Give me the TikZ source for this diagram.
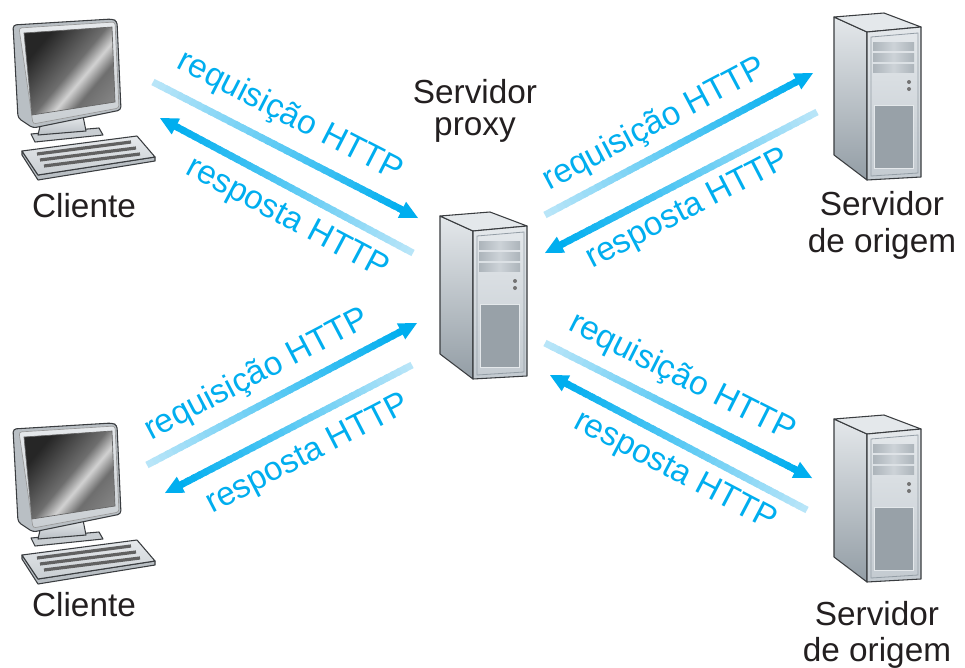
\documentclass[tikz,border=0pt]{standalone}
\usepackage{fontspec}
\setmainfont{Liberation Sans}
\usetikzlibrary{calc}
\definecolor{arrowblue}{HTML}{00AEEF}
\definecolor{arrowlight}{HTML}{B8E5F8}
\definecolor{labelblue}{HTML}{00AEEF}
\definecolor{textblack}{HTML}{231F20}
\definecolor{linegray}{HTML}{3A3D40}
\definecolor{scrA}{HTML}{262626}
\definecolor{scrB}{HTML}{6E6E6E}
\definecolor{scrC}{HTML}{D2D2D2}
\definecolor{scrD}{HTML}{A8A8A8}
\definecolor{frameside}{HTML}{B9BFC4}
\definecolor{frametop}{HTML}{E6E9EC}
\definecolor{framebot}{HTML}{C9CED2}
\definecolor{srvlight}{HTML}{E4E8EB}
\definecolor{srvmid}{HTML}{C3CAD0}
\definecolor{srvdark}{HTML}{939DA5}
\definecolor{srvpanel}{HTML}{98A1A8}
\definecolor{baydark}{HTML}{8C969D}
\definecolor{baylight}{HTML}{CDD3D8}
\pgfdeclarehorizontalshading{screenshade}{100bp}{color(0bp)=(scrA); color(28bp)=(scrA); color(50bp)=(scrB); color(58bp)=(scrC); color(66bp)=(scrB); color(100bp)=(scrD)}
\pgfdeclarehorizontalshading{bayshade}{100bp}{color(0bp)=(baydark); color(50bp)=(baylight); color(100bp)=(baydark)}
\newcommand\gradarrow[2]{%
  \coordinate (ga-e) at ($(#2)!11pt!(#1)$);
  \coordinate (ga-b) at ($(#2)!13.5pt!(#1)$);
  \foreach \i in {0,...,39}{%
    \pgfmathsetmacro\fa{\i/40}%
    \pgfmathsetmacro\fb{min(1,(\i+1.5)/40)}%
    \pgfmathtruncatemacro\pc{\i*100/39}%
    \draw[line width=5.2pt, arrowblue!\pc!arrowlight] ($(#1)!\fa!(ga-e)$) -- ($(#1)!\fb!(ga-e)$);
  }%
  \fill[arrowblue] (#2) -- ($(ga-b)!6.75pt!90:(#2)$) -- ($(ga-b)!6.75pt!-90:(#2)$) -- cycle;
}
\tikzset{
  outl/.style={draw=linegray, line width=0.8pt, line join=round},
  lbl/.style={text=labelblue, font=\fontsize{25pt}{27pt}\selectfont, inner sep=0pt},
  captxt/.style={text=textblack, font=\fontsize{25pt}{27pt}\selectfont, align=center, inner sep=0pt},
  computer/.pic={
    % stand
    \draw[outl, fill=framebot] (18,116) -- (86,110) -- (90,117) -- (22,124) -- cycle;
    \draw[outl, top color=frametop, bottom color=frameside] (28,104) -- (70,98) -- (73,113) -- (25,117) -- cycle;
    % monitor
    \draw[outl, rounded corners=2.5pt, fill=frameside] (0,7) -- (99,1) -- (104,3) -- (108,92) -- (20,110) -- (5,100) -- cycle;
    \draw[line width=0.5pt, draw=black!40, top color=frametop, bottom color=framebot, rounded corners=2pt] (6,10) -- (102,4) -- (106,90) -- (20,106) -- cycle;
    \shade[shading=screenshade, shading angle=-40, draw=black!60, line width=0.5pt] (11,15) -- (99,9) -- (102,84) -- (19,97) -- cycle;
    % keyboard
    \draw[outl, fill=frameside] (9,133) -- (25,157) -- (142,139) -- (142,143) -- (25,162) -- (9,137) -- cycle;
    \draw[outl, top color=frametop, bottom color=framebot] (9,133) -- (124,118) -- (142,139) -- (25,157) -- cycle;
    \draw[line width=2.4pt, draw=black!62] (24,136) -- (118,124);
    \draw[line width=2.4pt, draw=black!62] (27,142) -- (123,130);
    \draw[line width=2.4pt, draw=black!62] (31,148) -- (127,136);
  },
  server/.pic={
    % left face
    \draw[outl, top color=srvlight, bottom color=srvdark] (0,4) -- (33,19) -- (33,167) -- (0,142) -- cycle;
    % top face
    \draw[outl, fill=srvlight] (0,4) -- (50,0) -- (87,14) -- (33,19) -- cycle;
    % front face
    \draw[outl, top color=srvlight, bottom color=srvmid] (33,19) -- (87,14) -- (87,164) -- (33,167) -- cycle;
    \draw[line width=0.6pt, draw=srvdark] (37,24) -- (84,20) -- (84,160) -- (37,163) -- cycle;
    % bays
    \shade[shading=bayshade] (39,29) rectangle (80,37);
    \shade[shading=bayshade] (39,40) rectangle (80,48);
    \shade[shading=bayshade] (39,51) rectangle (80,59);
    % buttons
    \fill[black!55] (75,69) circle[radius=1.5pt];
    \fill[black!55] (75,76) circle[radius=1.5pt];
    % lower panel
    \draw[line width=0.6pt, draw=srvlight, fill=srvpanel] (40,92) rectangle (79,155);
  }
}
\begin{document}
\begin{tikzpicture}[x=0.75pt,y=-0.75pt]
\useasboundingbox[fill=white] (0,0) rectangle (965,668);

% devices
\pic (cl1) at (13,18) {computer};
\pic (cl2) at (13,422) {computer};
\pic (px) at (440,212) {server};
\pic (os1) at (834,13) {server};
\pic (os2) at (834,415) {server};

% captions (base anchor = baseline of the last line)
\node[captxt, anchor=base] (cap-cl1) at (84,217) {Cliente};
\node[captxt, anchor=base] (cap-cl2) at (84,616) {Cliente};
\node[captxt, anchor=base, font=\fontsize{25pt}{24pt}\selectfont] (cap-px) at (475,135) {Servidor\\proxy};
\node[captxt, anchor=base, font=\fontsize{25pt}{27.5pt}\selectfont] (cap-os1) at (882,252) {Servidor\\de origem};
\node[captxt, anchor=base, font=\fontsize{25pt}{27pt}\selectfont] (cap-os2) at (877,661) {Servidor\\de origem};

% arrow end points
\coordinate (tlq-s) at (153,82);  \coordinate (tlq-e) at (418,218);
\coordinate (tlr-s) at (413,253); \coordinate (tlr-e) at (160,118);
\coordinate (trq-s) at (545,215); \coordinate (trq-e) at (813,73);
\coordinate (trr-s) at (817,112); \coordinate (trr-e) at (545,253);
\coordinate (blq-s) at (147,465); \coordinate (blq-e) at (417,323);
\coordinate (blr-s) at (412,365); \coordinate (blr-e) at (165,493);
\coordinate (brq-s) at (545,343); \coordinate (brq-e) at (812,478);
\coordinate (brr-s) at (807,510); \coordinate (brr-e) at (550,375);

\gradarrow{tlq-s}{tlq-e}
\gradarrow{tlr-s}{tlr-e}
\gradarrow{trq-s}{trq-e}
\gradarrow{trr-s}{trr-e}
\gradarrow{blq-s}{blq-e}
\gradarrow{blr-s}{blr-e}
\gradarrow{brq-s}{brq-e}
\gradarrow{brr-s}{brr-e}

% labels
\node[lbl, rotate=-27.2] (l-tlq) at (290,117) {requisição HTTP};
\node[lbl, rotate=-28]   (l-tlr) at (287,219) {resposta HTTP};
\node[lbl, rotate=27.9]  (l-trq) at (655,125) {requisição HTTP};
\node[lbl, rotate=27.4]  (l-trr) at (688,210) {resposta HTTP};
\node[lbl, rotate=27.7]  (l-blq) at (257,375) {requisição HTTP};
\node[lbl, rotate=27.4]  (l-blr) at (308,455) {resposta HTTP};
\node[lbl, rotate=-26.8] (l-brq) at (682,378) {requisição HTTP};
\node[lbl, rotate=-27.7] (l-brr) at (675,472) {resposta HTTP};
\end{tikzpicture}
\end{document}
